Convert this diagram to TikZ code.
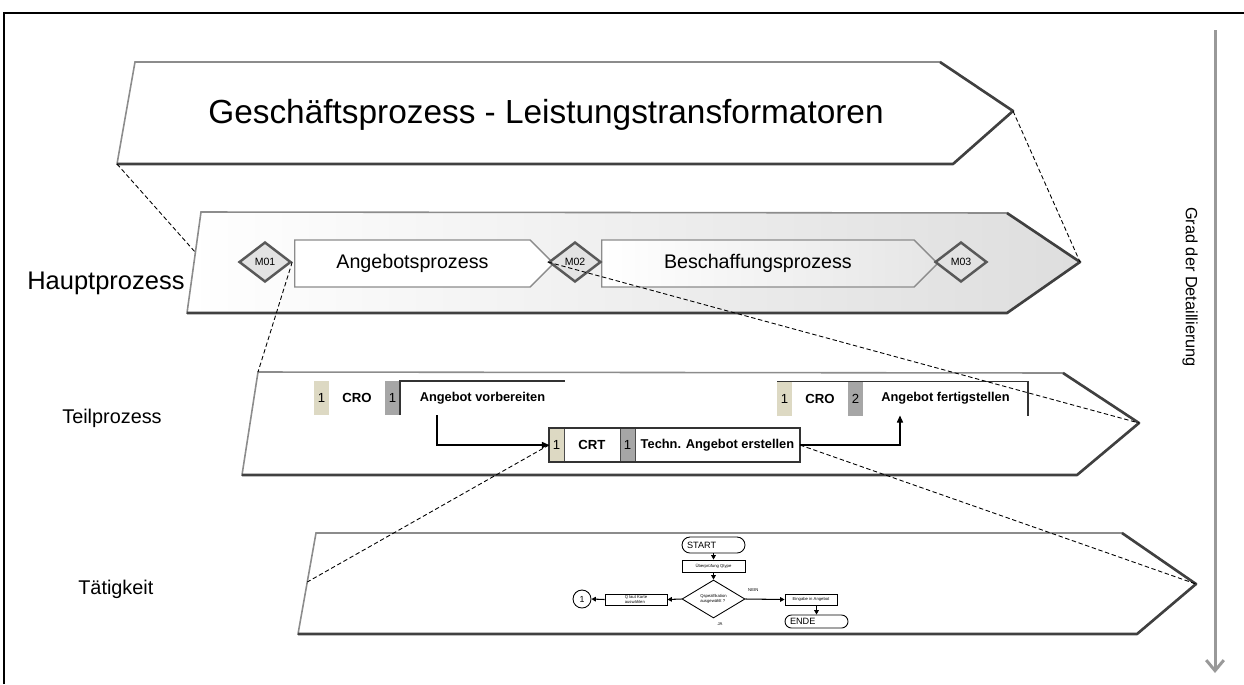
\documentclass[tikz,border=0pt]{standalone}
\usepackage{fontspec}
\setmainfont{Liberation Sans}
\usetikzlibrary{arrows.meta, positioning, shapes.geometric, shapes.symbols, calc}

\definecolor{cellbeige}{HTML}{DDD9C3}
\definecolor{cellgray}{HTML}{A6A6A6}
\definecolor{msgray}{HTML}{E3E3E3}

\begin{document}
\begin{tikzpicture}[x=0.02cm, y=-0.02cm,
  level/.style={draw=black!45, line width=0.9pt, fill=white},
  leveledge/.style={draw=black!75, line width=1.5pt, line join=round},
  stage/.style={signal, signal to=east, signal pointer angle=90, draw=black!45, line width=0.8pt,
                anchor=west, minimum height=0.94cm, inner sep=0pt, font=\fontsize{11.2}{13}\selectfont},
  mile/.style={diamond, draw=black!65, line width=1.4pt, fill=msgray, minimum width=1.04cm,
               minimum height=0.8cm, inner sep=0pt, font=\fontsize{6}{7}\selectfont},
  lbl/.style={anchor=west, inner sep=0pt, font=\fontsize{11.3}{13}\selectfont},
  num/.style={minimum width=0.3cm, minimum height=0.68cm, inner sep=0pt, outer sep=0pt,
              font=\fontsize{7.5}{9}\selectfont},
  role/.style={minimum width=1.12cm, minimum height=0.68cm, inner sep=0pt, outer sep=0pt, fill=white,
               font=\bfseries\fontsize{7.5}{9}\selectfont},
  task/.style={minimum width=3.3cm, minimum height=0.68cm, inner sep=0pt, outer sep=0pt, fill=white,
               font=\bfseries\fontsize{7.3}{9}\selectfont},
  link/.style={dash pattern=on 2.5pt off 1.5pt, line width=0.5pt},
  arr/.style={-{Triangle[length=4pt, width=3.5pt]}, line width=0.6pt},
  fl/.style={draw, line width=0.5pt, inner sep=0pt, align=left, font=\fontsize{2.4}{2.9}\selectfont},
  farr/.style={-{Triangle[length=2.5pt, width=2.6pt]}, line width=0.6pt},
]
\useasboundingbox (0,0) rectangle (1244,684);
\draw[line width=1.1pt] (4,684) -- (4,13) -- (1244,13);

% corner points of the four levels
\coordinate (gp-tl) at (135,62);  \coordinate (gp-tr) at (940,62);  \coordinate (gp-tip) at (1013,111);
\coordinate (gp-br) at (953,164); \coordinate (gp-bl) at (117,164);
\coordinate (hp-tl) at (201,212); \coordinate (hp-tr) at (1007,213); \coordinate (hp-tip) at (1080,262);
\coordinate (hp-br) at (1007,313); \coordinate (hp-bl) at (187,313);
\coordinate (tp-tl) at (258,372); \coordinate (tp-tr) at (1063,373); \coordinate (tp-tip) at (1139,423);
\coordinate (tp-br) at (1077,475); \coordinate (tp-bl) at (242,475);
\coordinate (ta-tl) at (316,533); \coordinate (ta-tr) at (1122,533); \coordinate (ta-tip) at (1196,584);
\coordinate (ta-br) at (1137,634); \coordinate (ta-bl) at (298,634);

\draw[level] (gp-tl) -- (gp-tr) -- (gp-tip) -- (gp-br) -- (gp-bl) -- cycle;
\draw[leveledge] (gp-tr) -- (gp-tip) -- (gp-br) -- (gp-bl);
\draw[level, left color=white, middle color=white!97!black, right color=black!13]
  (hp-tl) -- (hp-tr) -- (hp-tip) -- (hp-br) -- (hp-bl) -- cycle;
\draw[leveledge] (hp-tr) -- (hp-tip) -- (hp-br) -- (hp-bl);
\draw[level] (tp-tl) -- (tp-tr) -- (tp-tip) -- (tp-br) -- (tp-bl) -- cycle;
\draw[leveledge] (tp-tr) -- (tp-tip) -- (tp-br) -- (tp-bl);
\draw[level] (ta-tl) -- (ta-tr) -- (ta-tip) -- (ta-br) -- (ta-bl) -- cycle;
\draw[leveledge] (ta-tr) -- (ta-tip) -- (ta-br) -- (ta-bl);

\node[font=\fontsize{19}{23}\selectfont] (title) at (546,115) {Geschäftsprozess - Leistungstransformatoren};
\node[lbl, font=\fontsize{14.5}{17}\selectfont] (haupt) at (27,283) {Hauptprozess};
\node[lbl] (teil) at (62,418) {Teilprozess};
\node[lbl] (taet) at (78,589) {Tätigkeit};

% main process
\node[stage, fill=white, minimum width=5.18cm] (angebot) at (294,263.5) {Angebotsprozess};
\node[stage, left color=white, right color=black!10, minimum width=6.72cm] (beschaff) at (601,263.5) {Beschaffungsprozess};
\node[mile] (m1) at (265,262) {M01};
\node[mile] (m2) at (575,262) {M02};
\node[mile] (m3) at (961,262) {M03};

% sub process
\node[num, fill=cellbeige] (a1) at (321.5,398) {1};
\node[role, right=0pt of a1] (a2) {CRO};
\node[num, fill=cellgray, right=0pt of a2] (a3) {1};
\node[task, right=0pt of a3] (a4) {Angebot vorbereiten};
\draw[black!80, line width=0.9pt] (a3.south east) -- (a3.north east) -- (a4.north east);

\node[num, fill=cellbeige] (b1) at (784.5,398.5) {1};
\node[role, right=0pt of b1] (b2) {CRO};
\node[num, fill=cellgray, right=0pt of b2] (b3) {2};
\node[task, right=0pt of b3] (b4) {Angebot fertigstellen};
\draw[black!80, line width=0.9pt] (b1.north west) -- (b4.north east) -- (b4.south east);

\node[num, fill=cellbeige] (c1) at (556.5,445) {1};
\node[role, right=0pt of c1] (c2) {CRT};
\node[num, fill=cellgray, right=0pt of c2] (c3) {1};
\node[task, right=0pt of c3] (c4) {Techn. Angebot erstellen};
\draw[black!70, line width=0.5pt] (c2.north west) -- (c2.south west) (c3.north west) -- (c3.south west)
  (c4.north west) -- (c4.south west);
\draw[black!80, line width=1.2pt] (c1.north west) rectangle (c4.south east);

\draw[arr] ([xshift=0.74cm]a4.south west) |- (c1.west);
\draw[arr] (c4.east) -| ([xshift=0.74cm]b4.south west);

% activity
\node[fl, rounded corners=0.16cm, minimum width=1.26cm, minimum height=0.32cm, text width=1.06cm,
  inner xsep=0.1cm, font=\fontsize{5.2}{6}\selectfont] (start) at (713.5,545) {START};
\node[fl, minimum width=1.26cm, minimum height=0.24cm] (chk) at (713.5,566) {Überprüfung Qtype};
\node[fl, diamond, aspect=1.66, minimum width=1.26cm, minimum height=0.76cm] (dia) at (713.5,599)
  {Qspezifikation\\ausgewählt ?};
\node[fl, minimum width=1.24cm, minimum height=0.22cm] (qbox) at (636,599.5) {Q laut Karte\\auswählen};
\node[fl, circle, minimum size=0.36cm, font=\fontsize{5}{6}\selectfont] (one) at (582,599) {1};
\node[fl, minimum width=1.04cm, minimum height=0.22cm] (ebox) at (811,599.5) {Eingabe in Angebot};
\node[fl, rounded corners=0.13cm, minimum width=1.26cm, minimum height=0.26cm, text width=1.06cm,
  inner xsep=0.1cm, font=\fontsize{5.2}{6}\selectfont] (ende) at (816.5,621.5) {ENDE};
\node[font=\fontsize{2.4}{2.9}\selectfont] (ja) at (720,624) {JA};

\draw[farr] (start) -- (chk);
\draw[farr] (chk) -- (dia);
\draw[farr] (dia.west) -- (qbox.east);
\draw[farr] (qbox.west) -- (one.east);
\draw[farr] (dia.east) -- node[pos=0.2, above=0.5pt, font=\fontsize{2.4}{2.9}\selectfont] (nein) {NEIN} (ebox.west);
\draw[farr] (ebox.south -| ende.north) -- (ende.north);

% drill-down links between the levels
\draw[link] (gp-bl) -- ($(hp-tl)!0.4!(hp-bl)$);
\draw[link] (gp-tip) -- (hp-tip);
\draw[link] (m1.east) -- (tp-tl);
\draw[link] (m2.west) -- (tp-tip);
\draw[link] (c1.west) -- ($(ta-tl)!0.485!(ta-bl)$);
\draw[link] (c4.east) -- (ta-tip);

% detail axis
\coordinate (gtop) at (1215,30);
\coordinate (gbot) at (1215,673);
\draw[black!40, line width=1.7pt, -{Straight Barb[length=6pt, width=10pt, line width=1.7pt]}] (gtop) -- (gbot);
\node[rotate=-90, font=\fontsize{9.3}{11}\selectfont] (grad) at (1190,287) {Grad der Detaillierung};
\end{tikzpicture}
\end{document}
